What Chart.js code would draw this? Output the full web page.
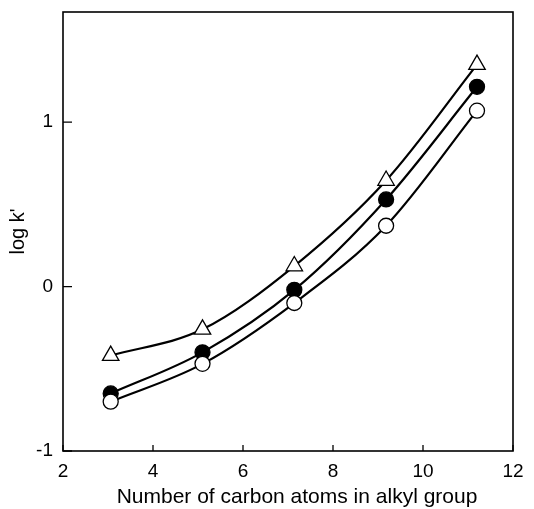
<!DOCTYPE html>
<html>
<head>
<meta charset="utf-8">
<script src="https://cdn.jsdelivr.net/npm/chart.js@4/dist/chart.umd.min.js"></script>
<style>
  html, body { margin: 0; padding: 0; background: #fff; }
  #wrap { width: 534px; height: 509px; }
</style>
</head>
<body>
<div id="wrap"><canvas id="myChart" width="534" height="509"></canvas></div>
<script>
'use strict';

// ******** DATA **********

let carbonAtoms = [3.06, 5.1, 7.14, 9.18, 11.2];
let triangleLogK = [-0.42, -0.26, 0.125, 0.645, 1.35];
let filledLogK = [-0.65, -0.40, -0.02, 0.53, 1.215];
let openLogK = [-0.70, -0.47, -0.10, 0.37, 1.07];

let xTicks = [2, 4, 6, 8, 10, 12];
let yTicks = [-1, 0, 1];

let xTitle = 'Number of carbon atoms in alkyl group';
let yTitle = "log k'";

let fontFamily = '"Liberation Sans", Arial, Helvetica, sans-serif';

function toPoints(values) {
  let pts = [];
  for (let i = 0; i < carbonAtoms.length; i++) {
    pts.push({ x: carbonAtoms[i], y: values[i] });
  }
  return pts;
}

// box round the plot, short inward tick marks, and the x title
// (the title sits a little right of the plot's centre)
let framePlugin = {
  id: 'frame',
  afterDatasetsDraw(chart) {
    let ctx = chart.ctx;
    let area = chart.chartArea;
    let xs = chart.scales.x;
    let ys = chart.scales.y;
    ctx.save();
    ctx.strokeStyle = '#000';
    ctx.lineWidth = 1.6;
    ctx.strokeRect(area.left, area.top, area.right - area.left, area.bottom - area.top);
    ctx.lineWidth = 1.3;
    ctx.beginPath();
    for (let v of xTicks) {
      let px = xs.getPixelForValue(v);
      ctx.moveTo(px, area.bottom);
      ctx.lineTo(px, area.bottom - 6);
    }
    for (let v of yTicks) {
      let py = ys.getPixelForValue(v);
      ctx.moveTo(area.left, py);
      ctx.lineTo(area.left + 9, py);
    }
    ctx.stroke();

    ctx.fillStyle = '#000';
    ctx.font = '21px ' + fontFamily;
    ctx.textAlign = 'center';
    ctx.textBaseline = 'alphabetic';
    ctx.fillText(xTitle, (area.left + area.right) / 2 + 9, xs.bottom - 6);
    ctx.restore();
  }
};

function series(label, values, order, style, radius, fillColor) {
  return {
    label: label,
    data: toPoints(values),
    order: order,
    borderColor: '#000',
    borderWidth: 2.2,
    fill: false,
    cubicInterpolationMode: 'monotone',
    pointStyle: style,
    pointRadius: radius,
    pointBackgroundColor: fillColor,
    pointBorderColor: '#000',
    pointBorderWidth: 1.3
  };
}

let ctx = document.getElementById('myChart').getContext('2d');

let myChartObj = {
  type: 'line',
  data: {
    datasets: [
      series('open circle', openLogK, 0, 'circle', 7.5, '#fff'),
      series('filled circle', filledLogK, 1, 'circle', 7.5, '#000'),
      series('triangle', triangleLogK, 2, 'triangle', 9.5, '#fff')
    ]
  },
  options: {
    responsive: false,
    animation: false,
    devicePixelRatio: 1,
    layout: {
      padding: { left: 0, right: 21, top: 12, bottom: 0 }
    },
    plugins: {
      legend: { display: false },
      tooltip: { enabled: false }
    },
    scales: {
      x: {
        type: 'linear',
        min: 2,
        max: 12,
        afterBuildTicks(scale) {
          scale.ticks = xTicks.map(v => ({ value: v }));
        },
        afterFit(scale) {
          scale.height = 58;
        },
        grid: { display: false, drawTicks: false },
        border: { display: false },
        ticks: {
          color: '#000',
          padding: 9,
          maxRotation: 0,
          font: { family: fontFamily, size: 19 }
        }
      },
      y: {
        type: 'linear',
        min: -1,
        max: 1.67,
        afterBuildTicks(scale) {
          scale.ticks = yTicks.map(v => ({ value: v }));
        },
        afterFit(scale) {
          scale.width = 63;
          // no label sits at the top edge, so keep no room for one there
          scale.paddingTop = 0;
          scale.paddingBottom = 0;
        },
        grid: { display: false, drawTicks: false },
        border: { display: false },
        ticks: {
          color: '#000',
          padding: 10,
          font: { family: fontFamily, size: 19 }
        },
        title: {
          display: true,
          text: yTitle,
          color: '#000',
          padding: { top: 6, bottom: 0 },
          font: { family: fontFamily, size: 20 }
        }
      }
    }
  },
  plugins: [framePlugin]
};

new Chart(ctx, myChartObj);
</script>
</body>
</html>
